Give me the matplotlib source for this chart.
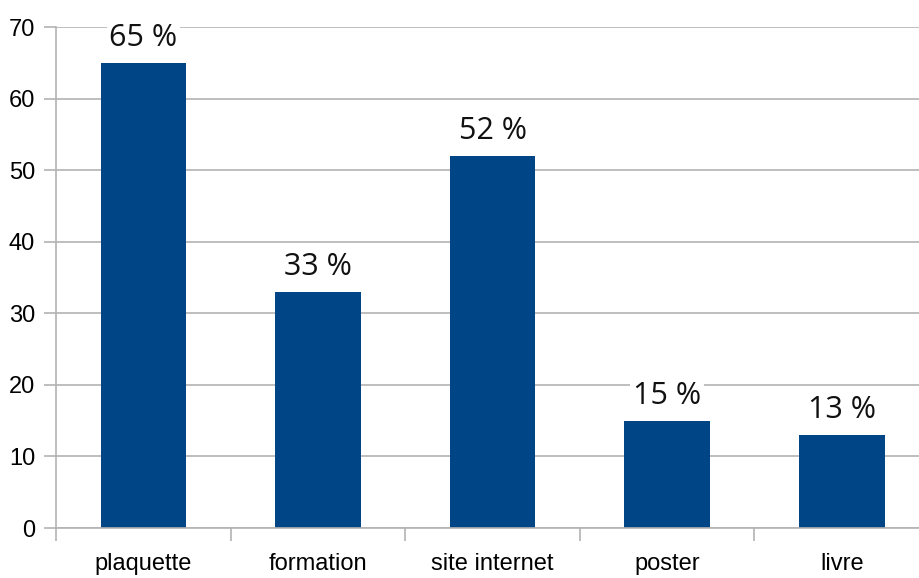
import matplotlib.pyplot as plt
import numpy as np

categories = ["plaquette", "formation", "site internet", "poster", "livre"]
values = [65, 33, 52, 15, 13]
value_labels = ["65 %", "33 %", "52 %", "15 %", "13 %"]
y_ticks = [0, 10, 20, 30, 40, 50, 60, 70]

fig = plt.figure(figsize=(9.19, 5.78), dpi=100)
ax = fig.add_axes([0.061, 0.0865, 0.950, 0.8667])

x = np.arange(len(categories))
bars = ax.bar(x, values, width=0.49, color="#004586", zorder=2)

for xi, v, lab in zip(x, values, value_labels):
    ax.annotate(lab, (xi, v), xytext=(0, 7), textcoords="offset points",
                ha="center", va="bottom", fontsize=22, family="Open Sans",
                color="#111111", zorder=3,
                bbox=dict(facecolor="white", edgecolor="none", pad=2))

ax.set_xlim(-0.5, len(categories) - 0.5)
ax.set_ylim(0, 70)
ax.set_yticks(y_ticks)
ax.set_yticklabels([str(t) for t in y_ticks], fontsize=17, family="Liberation Sans")
ax.yaxis.grid(True, color="#b3b3b3", linewidth=1.2, zorder=0)
ax.set_axisbelow(True)

ax.set_xticks(x)
ax.set_xticklabels(categories, fontsize=17, family="Liberation Sans")
ax.set_xticks(np.arange(len(categories) + 1) - 0.5, minor=True)
ax.tick_params(axis="x", which="major", length=0, pad=18)
ax.tick_params(axis="x", which="minor", length=9, width=1.2, color="#b3b3b3")
ax.tick_params(axis="y", length=9, width=1.2, color="#b3b3b3", pad=6)

for s in ["top", "right"]:
    ax.spines[s].set_visible(False)
for s in ["left", "bottom"]:
    ax.spines[s].set_color("#b3b3b3")
    ax.spines[s].set_linewidth(1.2)

fig.savefig("out.png", dpi=100)
